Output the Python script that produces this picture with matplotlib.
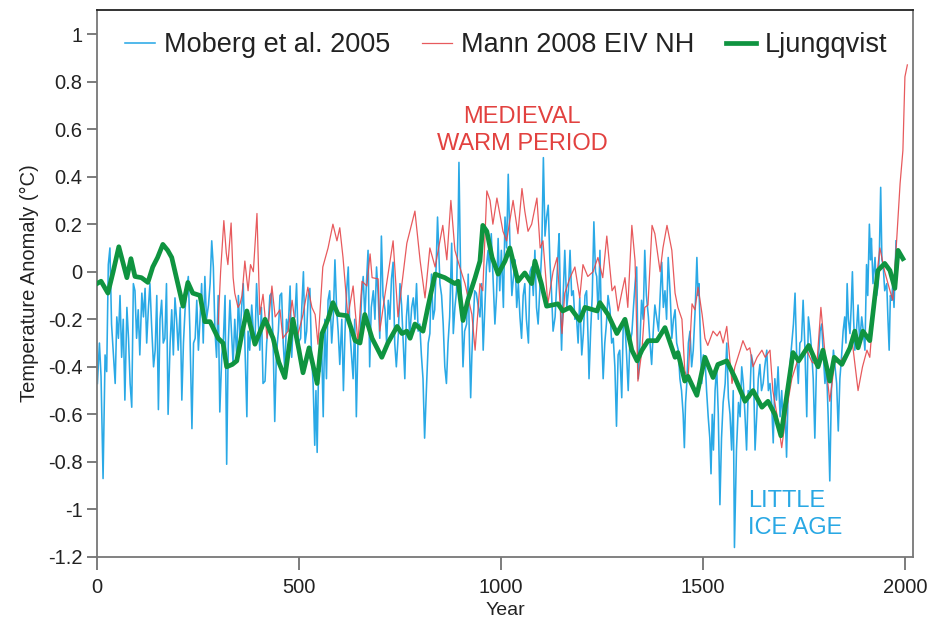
import matplotlib
matplotlib.use("Agg")
import matplotlib.pyplot as plt
import numpy as np

plt.rcParams['font.family'] = ['Liberation Sans', 'DejaVu Sans']

# ---------------- data ----------------
moberg_years = [1, 6, 10, 15, 20, 24, 28, 32, 36, 40, 45, 49, 53, 57, 61, 65, 69, 74, 78, 82, 86, 90, 94, 98,
                102, 106, 111, 115, 119, 123, 127, 131, 135, 140, 144, 148, 152, 156, 160, 164, 168, 172, 176,
                181, 185, 189, 193, 197, 201, 206, 210, 214, 218, 222, 226, 230, 235, 239, 243, 247, 251, 255,
                259, 263, 267, 271, 276, 280, 284, 288, 292, 296, 300, 304, 309, 313, 317, 321, 325, 329,
                337, 341, 346, 350, 354, 358, 362, 366, 371, 374, 378, 383, 387, 391, 395, 399, 403, 407, 411,
                416, 420, 424, 428, 432, 436, 440, 444, 449, 453, 457, 461, 465, 469, 473, 478, 482, 486, 490,
                494, 498, 504, 507, 511, 515, 519, 523, 527, 531, 535, 539, 542, 545, 549, 552, 556, 560, 564,
                568, 572, 576, 581, 585, 589, 593, 597, 601, 606, 610, 614, 618, 622, 626, 630, 634, 638, 642,
                646, 651, 655, 659, 663,
                667, 671, 675, 679, 684, 688, 692, 696, 700, 704, 708, 713, 717, 721, 725, 729, 733, 737, 741,
                746, 750, 754, 758, 762, 766, 770, 774, 779, 783, 787, 791, 795, 799, 803, 807, 811, 816, 820,
                824, 828, 832, 836, 840, 843, 849, 853, 857, 861, 865, 869, 873, 878, 882, 886, 890, 894, 896,
                900, 902, 906, 910, 915, 919, 922, 925, 928, 931, 935, 939, 944, 948, 952, 956, 960, 964, 968,
                972, 976, 981, 985, 989, 993, 997, 1001, 1006, 1010, 1014, 1018, 1022, 1027, 1031, 1035, 1039,
                1043, 1047, 1051, 1055, 1059, 1063, 1068, 1072, 1076, 1080, 1084, 1088, 1092, 1097, 1101, 1105,
                1109, 1113, 1117, 1121, 1125, 1129, 1134, 1138, 1142, 1144, 1148, 1150, 1154, 1158, 1163, 1167,
                1171, 1175, 1179, 1183, 1187, 1191, 1195, 1200, 1204, 1208, 1212, 1216, 1218, 1222, 1226, 1230,
                1234, 1237, 1241, 1245, 1249, 1253, 1257, 1261, 1265, 1270, 1274, 1278, 1282, 1286, 1290, 1294,
                1299, 1303, 1307, 1311, 1315, 1319, 1324, 1328, 1332,
                1336, 1340, 1344, 1348, 1352, 1356, 1360, 1365, 1369, 1373, 1377, 1381, 1386, 1390, 1394, 1398,
                1402, 1406, 1410, 1414, 1419, 1423, 1427, 1431, 1435, 1439, 1443, 1447, 1451, 1454, 1457, 1460,
                1464, 1468, 1472, 1476, 1481, 1485, 1488, 1490, 1494, 1497, 1501, 1505, 1509, 1513, 1517, 1520,
                1523, 1526, 1530, 1534, 1538, 1542, 1546, 1550, 1555, 1559, 1563, 1567, 1571, 1575, 1578, 1583,
                1588, 1592, 1596, 1600, 1604, 1608, 1612, 1616, 1620, 1625, 1629, 1633, 1637, 1641, 1645, 1649,
                1653, 1658, 1662, 1666,
                1670, 1674, 1678, 1682, 1686, 1691, 1695, 1699, 1703, 1707, 1711, 1715, 1720, 1724, 1728, 1732,
                1736, 1740, 1744, 1748, 1752, 1757, 1761, 1765, 1769, 1773, 1777, 1781, 1786, 1790, 1794, 1798,
                1802, 1806, 1810, 1814, 1818, 1823, 1827, 1831, 1835, 1839, 1843, 1847, 1851, 1854, 1857, 1860,
                1864, 1867, 1870, 1873, 1876, 1880, 1884, 1888, 1893, 1897, 1901, 1905, 1908, 1912, 1915, 1917,
                1921, 1926, 1930, 1934, 1937, 1940, 1943, 1946, 1950, 1955, 1958, 1961, 1964, 1967, 1970, 1973,
                1976, 1978]
moberg_vals = [-0.47, -0.3, -0.44, -0.87, -0.35, -0.42, 0.03, 0.1, -0.22, -0.33, -0.47, -0.19, -0.28, -0.1, -0.36,
               -0.2, -0.54, -0.15, -0.28, -0.47, -0.57, -0.05, -0.08, -0.28,
               -0.16, -0.35, -0.09, -0.19, -0.07, -0.3, -0.16, -0.05, -0.22, -0.4, -0.33, -0.1, -0.58, -0.2, -0.12,
               -0.3, -0.28, -0.05, -0.6,
               -0.3, -0.16, -0.35, -0.11, -0.2, -0.33, -0.15, -0.54, -0.3, -0.16, -0.08, -0.02, -0.25, -0.66, -0.3,
               -0.28, -0.12, -0.33, -0.2,
               -0.05, -0.3, -0.02, -0.2, -0.14, -0.05, 0.13, 0.02, -0.25, -0.36, -0.1, -0.59, -0.35, -0.28, -0.1,
               -0.81, -0.3, -0.12,
               -0.39, -0.2, -0.36, -0.1, -0.28, -0.15, -0.05, -0.3, -0.61, -0.25, -0.33, -0.14, -0.25, -0.3, -0.05,
               -0.2, -0.33, -0.15, -0.47,
               -0.46, -0.3, -0.22, -0.1, -0.09, -0.3, -0.63, -0.35, -0.25, -0.1, -0.09, -0.3, -0.42, -0.2, -0.25,
               -0.06, -0.36, -0.2, -0.19,
               -0.05, -0.3, -0.28, -0.15, 0.0, -0.3, -0.25, -0.1, -0.07, -0.35, -0.47, -0.73, -0.5, -0.76, -0.35,
               -0.42, -0.3, -0.61, -0.2,
               -0.45, -0.12, -0.08, -0.3, -0.19, 0.05, -0.15, -0.25, -0.39, -0.2, -0.5, -0.25, -0.08, 0.02, -0.25,
               -0.35, -0.45, -0.2, -0.61,
               -0.3, -0.28, -0.1, -0.02, -0.19,
               -0.05, 0.09, -0.4, -0.15, -0.08, -0.2, 0.02, -0.1, -0.28, 0.15, -0.1, -0.16, -0.3, -0.12, -0.2,
               -0.03, 0.04, -0.3, -0.4,
               -0.26, -0.05, -0.14, -0.3, -0.45, -0.19, -0.1, -0.28, -0.15, -0.11, -0.2, -0.05, -0.25, -0.22, -0.35,
               -0.45, -0.7, -0.47, -0.3,
               -0.26, -0.01, -0.2, -0.16, 0.05, 0.23, -0.05, -0.1, -0.22, -0.4, -0.47, -0.3, -0.19, 0.12, -0.26,
               -0.15, -0.08, 0.2, 0.46,
               0.0, -0.11, -0.4, -0.25, -0.22, -0.01, -0.3, -0.53, -0.35, -0.22, -0.08, -0.09, -0.15, -0.19, -0.05,
               -0.33, -0.15, 0.02, 0.09,
               0.0, 0.16, -0.05, -0.22, -0.1, 0.14, -0.08, 0.09, -0.15, 0.23, 0.1, 0.41, 0.13, -0.1, -0.02, 0.05,
               -0.15,
               -0.05, -0.19, -0.28, -0.1, -0.05, -0.2, -0.3, 0.0, 0.02, -0.1, 0.09, -0.15, -0.22, -0.05, 0.09, 0.48,
               0.15, 0.23, 0.28, 0.05, -0.08, -0.25, -0.19, -0.05, 0.1, 0.16, -0.2, -0.33, -0.1, 0.09, -0.15, -0.08,
               0.09, -0.1, -0.08, -0.2, -0.19, -0.3, -0.11, -0.35, -0.26, -0.1, -0.08, -0.3, -0.45, -0.25, -0.1,
               0.21,
               0.0, -0.02, -0.2, 0.09, -0.25, -0.45, -0.3, -0.22, -0.1, -0.16, -0.3, -0.28, -0.4, -0.65, -0.35,
               -0.33,
               -0.53, -0.2, -0.22, -0.35, -0.5, -0.3, -0.26, -0.15, -0.05,
               0.02, -0.45, -0.3, -0.12, -0.2, 0.09, -0.1, -0.19, -0.3, -0.39, -0.25, -0.14, -0.2, -0.25, -0.1, 0.04,
               -0.15, -0.08, -0.2, 0.06, -0.1, -0.28, -0.2, -0.16, -0.3, -0.33, -0.45, -0.5, -0.6, -0.74, -0.55,
               -0.47,
               -0.3, -0.25, -0.4, -0.33, -0.15, 0.06, -0.1, -0.05, -0.3, -0.47, -0.35, -0.36, -0.5, -0.61, -0.7,
               -0.85,
               -0.6, -0.75, -0.5, -0.4, -0.6, -0.98, -0.7, -0.55, -0.47, -0.3, -0.53, -0.6, -0.75, -0.5, -1.16,
               -0.75,
               -0.55, -0.61, -0.4, -0.47, -0.6, -0.75, -0.5, -0.53, -0.35, -0.4, -0.75, -0.61, -0.45, -0.39, -0.5,
               -0.47,
               -0.4, -0.33, -0.5, -0.47,
               -0.55, -0.72, -0.45, -0.54, -0.4, -0.61, -0.5, -0.68, -0.55, -0.78, -0.5, -0.4, -0.3, -0.22, -0.09,
               -0.35,
               -0.47, -0.3, -0.29, -0.12, -0.3, -0.61, -0.19, -0.25, -0.33, -0.45, -0.7, -0.4, -0.36, -0.25, -0.22,
               -0.35,
               -0.47, -0.4, -0.61, -0.88, -0.5, -0.33, -0.4, -0.47, -0.67, -0.45, -0.36, -0.25, -0.19, -0.3, -0.05,
               -0.2,
               -0.26, -0.15, 0.0, -0.2, -0.33, -0.25, -0.14, -0.3, -0.19, -0.25, -0.33, 0.03, -0.1, 0.2, 0.05, 0.14,
               -0.05, 0.06, -0.1, -0.05, 0.1, 0.355, 0.05, 0.03, -0.08, -0.05, -0.2, -0.33, -0.1, -0.12, -0.05,
               -0.15,
               0.02, 0.13]

mann_years = [300, 306, 314, 320, 324, 332, 337, 341, 349, 354, 359, 366, 374, 380, 387, 396, 403, 411, 421, 433,
              441, 453, 460, 473, 483, 495, 510, 522, 532, 540, 547, 559, 572, 584, 594, 601, 609, 621, 634, 646,
              656, 668, 676, 681, 696, 700, 713, 733, 745, 767, 787, 800, 812, 824, 837, 856, 866, 876, 886, 898,
              911, 928, 936, 948, 955, 965, 973, 980, 990, 1005, 1014, 1030, 1042, 1052, 1059, 1067, 1076, 1089,
              1097, 1104, 1116, 1129, 1139, 1151, 1158, 1171, 1183, 1195, 1203, 1215, 1228, 1240, 1252, 1262,
              1275, 1282, 1290, 1300, 1307, 1314, 1324, 1332, 1339, 1349, 1356, 1364, 1374, 1381, 1394, 1401,
              1411, 1423, 1431, 1438, 1448, 1455, 1463, 1473, 1480, 1488, 1498, 1505, 1512, 1525, 1535, 1542,
              1550, 1559, 1572, 1579, 1592, 1599, 1609, 1616, 1624, 1634, 1646, 1654, 1666, 1673, 1685, 1695,
              1708, 1720, 1733, 1745, 1757, 1770, 1782, 1792, 1805, 1814, 1826, 1839, 1856, 1870, 1884, 1895,
              1906, 1913, 1925, 1938, 1950, 1963, 1970, 1980, 1988, 1995, 2000, 2006]
mann_vals = [-0.22, 0.0, 0.215, 0.08, 0.03, 0.205, -0.025, -0.09, -0.15, -0.135, -0.1, 0.045, -0.08, 0.03, 0.0,
             0.245, -0.18, -0.095, -0.28, -0.06,
             -0.19, -0.16, -0.28, -0.25, -0.12, -0.28, -0.18, -0.065, -0.15, -0.18, -0.305, 0.02, 0.1, 0.2, 0.13,
             0.185, 0.06, -0.19, -0.06, -0.3,
             -0.04, -0.06, 0.075, -0.025, -0.03, -0.25, -0.095, 0.13, -0.19, 0.12, 0.255, 0.045, -0.11, 0.1, 0.02,
             0.195, 0.05, 0.3, 0.09, 0.02,
             -0.05, -0.18, -0.33, -0.05, -0.08, 0.34, 0.3, 0.2, 0.31, 0.17, 0.13, 0.3, 0.16, 0.35, 0.255, 0.17, 0.2,
             0.31,
             0.1, 0.13, -0.135, 0.0, 0.06, -0.26, -0.09, -0.025, 0.02, -0.11, 0.03, -0.02, 0.0, 0.06, -0.025, 0.15,
             -0.08, -0.06, -0.165, -0.08, -0.025, -0.15, 0.195, 0.045, -0.46, -0.33, -0.15, -0.14, 0.195, 0.16,
             0.0, 0.1,
             0.195, 0.09, -0.09, -0.15, -0.2, -0.415, -0.46, -0.135, -0.16, -0.065, -0.18, -0.28, -0.31, -0.25,
             -0.27, -0.25,
             -0.3, -0.23, -0.47, -0.4, -0.33, -0.29, -0.33, -0.32, -0.4, -0.36, -0.33, -0.36, -0.33, -0.5, -0.62,
             -0.74,
             -0.57, -0.45, -0.38, -0.35, -0.33, -0.38, -0.39, -0.15, -0.4, -0.545, -0.38, -0.38, -0.34, -0.3, -0.5,
             -0.4,
             -0.33, -0.36, -0.1, 0.1, 0.0, -0.08, -0.12, 0.145, 0.37, 0.51, 0.82, 0.87]

ljung_years = [0, 10, 27, 40, 54, 74, 84, 94, 110, 126, 138, 150, 163, 175, 185, 200, 213, 225, 237, 255, 267,
               280, 300, 312, 321, 335, 346, 360, 371, 391, 416, 436, 450, 465, 485, 500, 510, 525, 545, 557, 572,
               584, 597, 619, 639, 651, 663, 681, 705, 720, 743, 755, 767, 775, 787, 807, 819, 837, 861, 886, 894,
               906, 918, 936, 948, 955, 965, 978, 993, 1010, 1022, 1042, 1059, 1076, 1084, 1100, 1113, 1141, 1153,
               1171, 1195, 1208, 1238, 1245, 1265, 1287, 1307, 1324, 1337, 1349, 1364, 1386, 1406, 1431, 1438,
               1455, 1463, 1485, 1505, 1525, 1537, 1559, 1579, 1604, 1624, 1646, 1661, 1678, 1693, 1723, 1737,
               1762, 1785, 1797, 1814, 1825, 1844, 1864, 1876, 1884, 1896, 1913, 1933, 1950, 1963, 1975, 1983,
               1995]
ljung_vals = [-0.05, -0.04, -0.09, 0.0, 0.105, -0.025, 0.055, -0.02, -0.025, -0.045, 0.02, 0.06, 0.115, 0.09, 0.06,
              -0.05, -0.145, -0.045, -0.09, -0.1, -0.21,
              -0.21, -0.28, -0.3, -0.4, -0.39, -0.375, -0.25, -0.165, -0.305, -0.2, -0.28, -0.38, -0.445, -0.2,
              -0.33, -0.425, -0.32, -0.47, -0.26, -0.2,
              -0.13, -0.18, -0.185, -0.29, -0.3, -0.18, -0.28, -0.36, -0.3, -0.23, -0.26, -0.25, -0.28, -0.22,
              -0.25, -0.15, -0.01, -0.025, -0.05, -0.04,
              -0.205, -0.12, -0.025, 0.045, 0.195, 0.17, 0.06, -0.01, 0.045, 0.1, -0.04, -0.005, -0.05, 0.045,
              -0.05, -0.145, -0.135, -0.165,
              -0.15, -0.205, -0.15, -0.165, -0.13, -0.18, -0.26, -0.2, -0.33, -0.375, -0.33, -0.29, -0.29, -0.235,
              -0.36, -0.34,
              -0.46, -0.44, -0.52, -0.36, -0.445, -0.39, -0.375, -0.445, -0.545, -0.5, -0.57, -0.545, -0.6, -0.69,
              -0.34, -0.375,
              -0.31, -0.4, -0.33, -0.46, -0.36, -0.39, -0.32, -0.25, -0.32, -0.25, -0.29, 0.005, 0.035, 0.005,
              -0.07, 0.09,
              0.055]

series_labels = ["Moberg et al. 2005", "Mann 2008 EIV NH", "Ljungqvist"]
x_ticks = [0, 500, 1000, 1500, 2000]
y_ticks = [-1.2, -1, -0.8, -0.6, -0.4, -0.2, 0, 0.2, 0.4, 0.6, 0.8, 1]
y_tick_labels = ["-1.2", "-1", "-0.8", "-0.6", "-0.4", "-0.2", "0", "0.2", "0.4", "0.6", "0.8", "1"]

# ---------------- plot ----------------
fig = plt.figure(figsize=(9.29, 6.30), dpi=100)
ax = fig.add_axes([97 / 929, 1 - 557 / 630, 816 / 929, 547 / 630])

c_blue = '#2aa9e6'
c_red = '#e5484b'
c_green = '#0f9440'
c_text = '#222222'

ax.plot(moberg_years, moberg_vals, color=c_blue, lw=1.15, label=series_labels[0], zorder=2)
ax.plot(mann_years, mann_vals, color=c_red, lw=0.9, alpha=0.9, label=series_labels[1], zorder=3)
ax.plot(ljung_years, ljung_vals, color=c_green, lw=3.4, label=series_labels[2], zorder=4,
        solid_joinstyle='round')

ax.set_xlim(0, 2020)
ax.set_ylim(-1.2, 1.101)
ax.set_xticks(x_ticks)
ax.set_xticklabels([str(t) for t in x_ticks])
ax.set_yticks(y_ticks)
ax.set_yticklabels(y_tick_labels)

ax.tick_params(axis='both', direction='out', colors='#666666', labelcolor=c_text, labelsize=14.5, width=1.2)
ax.tick_params(axis='y', length=7.5, pad=3)
ax.tick_params(axis='x', length=9, pad=6)

for side in ['left', 'bottom', 'right']:
    ax.spines[side].set_color('#777777')
    ax.spines[side].set_linewidth(1.3)
ax.spines['top'].set_color('#222222')
ax.spines['top'].set_linewidth(1.3)

ax.set_xlabel('Year', fontsize=14, color=c_text, labelpad=4)
ax.set_ylabel('Temperature Anomaly (°C)', fontsize=14.5, color=c_text, labelpad=6)

leg = ax.legend(loc='center left', bbox_to_anchor=((125 - 97) / 816, 1 - (45 - 10) / 547), ncol=3,
                frameon=False, fontsize=19.5, handlelength=1.1, handletextpad=0.33, columnspacing=1.18,
                borderpad=0, borderaxespad=0)
for t in leg.get_texts():
    t.set_color(c_text)

ax.text(1052, 0.594, 'MEDIEVAL\nWARM PERIOD', color='#e2413f', fontsize=17, ha='center', va='center',
        linespacing=1.3)
ax.text(1611, -1.02, 'LITTLE\nICE AGE', color='#29a8e4', fontsize=17, ha='left', va='center',
        linespacing=1.3)

fig.savefig('out.png', dpi=100)
